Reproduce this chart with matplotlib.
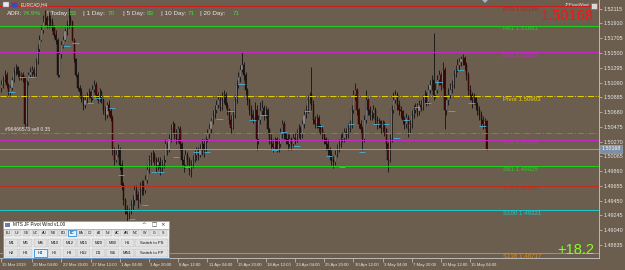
import matplotlib
matplotlib.use("Agg")
import matplotlib.pyplot as plt
import matplotlib.transforms as mtransforms
from matplotlib.patches import Rectangle, Polygon

plt.rcParams['font.family'] = ['Liberation Sans', 'DejaVu Sans']

# ---------------- data ----------------
first_open = 1.5102
close = [1.5106,1.5113,1.5120,1.5106,1.5096,1.5102,1.5113,1.5124,1.5130,1.5121,
 1.5118,1.5120,1.5116,1.5051,1.5110,1.5120,1.5124,1.5127,1.5121,1.5138,
 1.5155,1.5168,1.5182,1.5193,1.5199,1.5189,1.5196,1.5193,1.5185,1.5175,
 1.5168,1.5120,1.5148,1.5161,1.5168,1.5180,1.5189,1.5199,1.5193,1.5168,
 1.5141,1.5120,1.5102,1.5096,1.5088,1.5078,1.5085,1.5092,1.5096,1.5088,
 1.5099,1.5106,1.5092,1.5085,1.5096,1.5085,1.5071,1.5064,1.5078,1.5069,
 1.5060,1.5016,1.5002,1.5009,1.5016,1.4995,1.4967,1.4946,1.4932,1.4926,
 1.4930,1.4939,1.4946,1.4960,1.4953,1.4946,1.4960,1.4967,1.4960,1.4974,
 1.4988,1.5002,1.5005,1.5009,1.5002,1.4995,1.4999,1.4991,1.4995,1.5002,
 1.5023,1.5016,1.5030,1.5044,1.5051,1.5037,1.5030,1.5044,1.5023,1.5002,
 1.4995,1.5009,1.5002,1.4988,1.4995,1.5002,1.5009,1.5016,1.5009,1.5016,
 1.5023,1.5016,1.5030,1.5037,1.5044,1.5055,1.5064,1.5071,1.5078,1.5085,
 1.5074,1.5085,1.5092,1.5078,1.5071,1.5057,1.5046,1.5064,1.5085,1.5106,
 1.5116,1.5127,1.5134,1.5120,1.5099,1.5085,1.5071,1.5064,1.5060,1.5071,
 1.5030,1.5057,1.5069,1.5074,1.5064,1.5071,1.5044,1.5030,1.5023,1.5019,
 1.5030,1.5016,1.5023,1.5037,1.5051,1.5037,1.5030,1.5023,1.5030,1.5023,
 1.5032,1.5030,1.5037,1.5044,1.5037,1.5051,1.5064,1.5071,1.5085,1.5092,
 1.5078,1.5057,1.5051,1.5060,1.5046,1.5044,1.5037,1.5030,1.5023,1.5016,
 1.5009,1.5002,1.4998,1.5009,1.5016,1.5023,1.5030,1.5032,1.5041,1.5037,
 1.5046,1.5051,1.5071,1.5092,1.5099,1.5071,1.5051,1.5044,1.5030,1.5057,
 1.5085,1.5071,1.5064,1.5067,1.5071,1.5057,1.5051,1.5055,1.5046,1.5051,
 1.5044,1.5023,1.5002,1.5030,1.5071,1.5085,1.5092,1.5078,1.5071,1.5069,
 1.5057,1.5051,1.5060,1.5044,1.5051,1.5064,1.5071,1.5074,1.5069,1.5078,
 1.5074,1.5085,1.5092,1.5082,1.5099,1.5106,1.5113,1.5092,1.5099,1.5113,
 1.5120,1.5106,1.5127,1.5071,1.5085,1.5092,1.5099,1.5106,1.5120,1.5127,
 1.5134,1.5138,1.5141,1.5143,1.5134,1.5120,1.5099,1.5092,1.5085,1.5088,
 1.5078,1.5071,1.5064,1.5057,1.5051,1.5055,1.50168]
high = [1.5113,1.5118,1.5127,1.5124,1.5109,1.5106,1.5116,1.5130,1.5135,1.5132,
 1.5127,1.5124,1.5123,1.5118,1.5113,1.5124,1.5130,1.5132,1.5130,1.5143,
 1.5162,1.5175,1.5189,1.5203,1.5210,1.5205,1.5207,1.5203,1.5199,1.5189,
 1.5182,1.5171,1.5152,1.5166,1.5174,1.5185,1.5196,1.5213,1.5203,1.5196,
 1.5171,1.5143,1.5124,1.5106,1.5102,1.5092,1.5091,1.5096,1.5102,1.5099,
 1.5106,1.5113,1.5110,1.5096,1.5102,1.5099,1.5088,1.5077,1.5082,1.5085,
 1.5074,1.5064,1.5019,1.5016,1.5023,1.5019,1.5002,1.4971,1.4949,1.4939,
 1.4935,1.4946,1.4953,1.4967,1.4967,1.4958,1.4971,1.4974,1.4974,1.4981,
 1.4995,1.5009,1.5013,1.5016,1.5013,1.5005,1.5005,1.5005,1.5002,1.5009,
 1.5030,1.5027,1.5037,1.5051,1.5055,1.5053,1.5044,1.5049,1.5048,1.5026,
 1.5009,1.5016,1.5013,1.5006,1.5002,1.5009,1.5016,1.5020,1.5020,1.5023,
 1.5030,1.5030,1.5035,1.5044,1.5051,1.5060,1.5071,1.5078,1.5085,1.5092,
 1.5091,1.5096,1.5099,1.5096,1.5082,1.5074,1.5064,1.5071,1.5092,1.5113,
 1.5124,1.5134,1.5152,1.5138,1.5124,1.5102,1.5088,1.5078,1.5071,1.5082,
 1.5078,1.5064,1.5082,1.5085,1.5078,1.5077,1.5074,1.5046,1.5037,1.5030,
 1.5034,1.5034,1.5030,1.5046,1.5057,1.5055,1.5041,1.5037,1.5037,1.5034,
 1.5039,1.5039,1.5044,1.5051,1.5048,1.5057,1.5071,1.5078,1.5092,1.5096,
 1.5131,1.5085,1.5063,1.5066,1.5064,1.5052,1.5048,1.5041,1.5034,1.5030,
 1.5020,1.5016,1.5007,1.5016,1.5023,1.5030,1.5037,1.5041,1.5046,1.5046,
 1.5053,1.5057,1.5078,1.5099,1.5109,1.5102,1.5074,1.5057,1.5048,1.5064,
 1.5099,1.5088,1.5077,1.5071,1.5078,1.5075,1.5062,1.5060,1.5057,1.5057,
 1.5055,1.5046,1.5027,1.5037,1.5078,1.5096,1.5099,1.5096,1.5085,1.5077,
 1.5071,1.5062,1.5067,1.5064,1.5057,1.5071,1.5078,1.5081,1.5080,1.5085,
 1.5085,1.5092,1.5099,1.5096,1.5105,1.5113,1.5120,1.5178,1.5109,1.5120,
 1.5127,1.5124,1.5138,1.5130,1.5092,1.5102,1.5109,1.5113,1.5127,1.5134,
 1.5141,1.5143,1.5146,1.5148,1.5146,1.5138,1.5124,1.5105,1.5096,1.5095,
 1.5092,1.5082,1.5077,1.5069,1.5062,1.5060,1.5057]
low = [1.5096,1.5102,1.5110,1.5102,1.5091,1.5092,1.5099,1.5110,1.5120,1.5116,
 1.5113,1.5113,1.5110,1.5046,1.5048,1.5106,1.5116,1.5118,1.5116,1.5118,
 1.5135,1.5152,1.5166,1.5178,1.5189,1.5185,1.5185,1.5188,1.5180,1.5171,
 1.5163,1.5116,1.5116,1.5143,1.5157,1.5166,1.5175,1.5185,1.5189,1.5166,
 1.5138,1.5116,1.5099,1.5088,1.5082,1.5071,1.5074,1.5081,1.5088,1.5082,
 1.5085,1.5096,1.5088,1.5080,1.5082,1.5080,1.5066,1.5057,1.5060,1.5063,
 1.5055,1.5009,1.4995,1.4999,1.5005,1.4988,1.4960,1.4939,1.4926,1.4916,
 1.4919,1.4926,1.4932,1.4939,1.4946,1.4935,1.4942,1.4953,1.4953,1.4956,
 1.4970,1.4984,1.4995,1.4999,1.4995,1.4985,1.4988,1.4981,1.4985,1.4991,
 1.4998,1.5009,1.5012,1.5026,1.5037,1.5030,1.5023,1.5026,1.5016,1.4995,
 1.4985,1.4991,1.4995,1.4981,1.4978,1.4991,1.4998,1.5002,1.5002,1.5005,
 1.5009,1.5006,1.5013,1.5026,1.5032,1.5039,1.5051,1.5060,1.5067,1.5074,
 1.5069,1.5071,1.5081,1.5074,1.5064,1.5051,1.5039,1.5044,1.5060,1.5081,
 1.5102,1.5110,1.5123,1.5113,1.5092,1.5078,1.5064,1.5055,1.5053,1.5057,
 1.5016,1.5023,1.5051,1.5064,1.5057,1.5060,1.5037,1.5023,1.5016,1.5012,
 1.5016,1.5012,1.5013,1.5019,1.5032,1.5030,1.5023,1.5016,1.5019,1.5016,
 1.5019,1.5023,1.5026,1.5032,1.5030,1.5032,1.5046,1.5060,1.5067,1.5081,
 1.5071,1.5051,1.5046,1.5046,1.5041,1.5037,1.5030,1.5023,1.5016,1.5009,
 1.5002,1.4995,1.4991,1.4995,1.5005,1.5012,1.5019,1.5026,1.5027,1.5030,
 1.5032,1.5041,1.5046,1.5067,1.5085,1.5064,1.5046,1.5037,1.5016,1.5026,
 1.5053,1.5064,1.5057,1.5057,1.5060,1.5052,1.5044,1.5046,1.5039,1.5041,
 1.5035,1.5016,1.4985,1.4998,1.5026,1.5067,1.5081,1.5071,1.5064,1.5060,
 1.5051,1.5044,1.5046,1.5034,1.5039,1.5046,1.5060,1.5067,1.5063,1.5064,
 1.5069,1.5071,1.5081,1.5077,1.5078,1.5095,1.5099,1.5085,1.5088,1.5095,
 1.5106,1.5099,1.5102,1.5044,1.5064,1.5078,1.5088,1.5095,1.5102,1.5116,
 1.5123,1.5127,1.5132,1.5134,1.5127,1.5113,1.5092,1.5085,1.5074,1.5080,
 1.5071,1.5064,1.5057,1.5048,1.5044,1.5046,1.5016]

marker_bar = [4,10,15,34,39,47,51,59,64,70,77,82,86,94,100,105,111,118,124,130,
              136,142,148,153,160,166,173,178,185,190,196,204,209,215,220,226,232,238,245,250,256,262]
marker_price = [1.5096,1.5117,1.5117,1.5160,1.5164,1.5081,1.5087,1.5074,1.4981,1.4920,
                1.4939,1.4985,1.4985,1.5006,1.4992,1.5012,1.5012,1.5059,1.5070,1.5107,
                1.5057,1.5064,1.5016,1.5041,1.5021,1.5069,1.5048,1.5007,1.4992,1.5051,
                1.5013,1.5052,1.5052,1.5032,1.5057,1.5075,1.5080,1.5110,1.5070,1.5127,1.5080,1.5048]

level_names = ["R78", "R61", "R38", "Pivot", "S38", "S61", "S78", "S100", "S138"]
level_values = [1.52146, 1.51881, 1.51507, 1.50903, 1.50299, 1.49925, 1.49660, 1.49321, 1.48717]
level_colors = ["#cc1a1a", "#1ed21e", "#c828c8", "#e6d200", "#c828c8", "#1ed21e", "#bf2c1c", "#1ccaca", "#d98a14"]
level_styles = ["-", "-", "-", "-.", "-", "-", "-", "-", "-"]

order_price = 1.50394
order_label = "#96466573 sell 0.35"
bid = 1.50168
profit_text = "+18.2"

price_ticks = [1.52115, 1.51910, 1.51705, 1.51500, 1.51295, 1.51090, 1.50885, 1.50680, 1.50475,
               1.50270, 1.50065, 1.49860, 1.49655, 1.49450, 1.49245, 1.49040, 1.48835]
date_bars = [0, 17, 33, 49, 65, 81, 97, 113, 129, 145, 161, 177, 193, 209, 225, 241, 257]
date_labels = ["15 Mar 2019", "20 Mar 04:00", "22 Mar 20:00", "27 Mar 12:00", "1 Apr 04:00",
               "3 Apr 20:00", "8 Apr 12:00", "11 Apr 04:00", "15 Apr 20:00", "18 Apr 12:00",
               "23 Apr 04:00", "25 Apr 20:00", "30 Apr 12:00", "3 May 04:00", "7 May 20:00",
               "10 May 12:00", "15 May 04:00"]

adr_labels = ["ADR:", "| Today:", "| 1 Day:", "| 5 Day:", "| 10 Day:", "| 20 Day:"]
adr_values = ["74.9%", "53", "70", "83", "71", "71"]

pair_buttons = ["EU", "UJ", "GU", "UC", "AU", "NU", "EG", "EC", "EA", "CJ", "AJ", "NJ", "AC", "AN", "NC", "W", "G", "S"]
tf_row1 = ["M1", "M5", "M6", "M10", "M12", "M15", "M20", "M30", "H1", "Switch to PS"]
tf_row2 = ["H2", "H3", "H4", "H6", "H8", "H12", "D1", "W1", "MN1", "Switch to PP"]

# ---------------- style ----------------
BG = "#6c5e4f"
BULL = "#9c9c9c"
BEAR = "#560b0b"
WICK = "#121212"
AXC = "#c8c8c8"
TXT = "#e6e6e6"
GREEN_TXT = "#3fdc3f"

fig = plt.figure(figsize=(6.25, 2.7), dpi=100, facecolor=BG)
ax = fig.add_axes([0, 12 / 270, 599 / 625, 258 / 270], facecolor=BG)
ax.set_xlim(-0.6, 327.6)
ax.set_ylim(1.486544, 1.522355)

opens = [first_open] + close[:-1]
idx = list(range(len(close)))
up = [c >= o for o, c in zip(opens, close)]
bottoms = [min(o, c) for o, c in zip(opens, close)]
heights = [max(abs(c - o), 0.00002) for o, c in zip(opens, close)]
ax.vlines(idx, low, high, color=WICK, lw=0.6, zorder=2)
ax.bar(idx, heights, bottom=bottoms, width=0.62,
       color=[BULL if u else BEAR for u in up],
       edgecolor=["#3a3a3a" if u else "#140000" for u in up], linewidth=0.3, zorder=3)

# small cyan markers
ax.hlines(marker_price, marker_bar, [b + 3.5 for b in marker_bar], color="#48b0e0", lw=0.6, zorder=4)

# pivot levels
lbl_tr = mtransforms.blended_transform_factory(ax.transAxes, ax.transData)
for n, v, c, s in zip(level_names, level_values, level_colors, level_styles):
    ax.axhline(v, color=c, lw=0.7, ls=s, zorder=5)
    ax.text(503 / 599, v - 0.00012, f"{n} {v:.5f}", transform=lbl_tr, color=c,
            fontsize=4.4, va="top", ha="left", zorder=6)

# order line and bid line
ax.axhline(order_price, color="#5e9a3c", lw=0.7, ls=(0, (6, 2, 1, 2)), zorder=5)
ax.text(5 / 599, order_price + 0.00012, order_label, transform=lbl_tr, color=TXT,
        fontsize=3.6, va="bottom", ha="left", zorder=6)
ax.axhline(bid, color="#a6a6a6", lw=0.6, zorder=5)
ax.text(1.004, bid, f"{bid:.5f}", transform=lbl_tr, color="white", fontsize=3.8,
        va="center", ha="left", zorder=7, clip_on=False,
        bbox=dict(boxstyle="square,pad=0.25", fc="#7d8fa6", ec="#9fb0c4", lw=0.4))

# axes styling
for sp in ["top", "left"]:
    ax.spines[sp].set_visible(False)
for sp in ["right", "bottom"]:
    ax.spines[sp].set_color(AXC)
    ax.spines[sp].set_linewidth(0.6)
ax.yaxis.tick_right()
ax.set_yticks(price_ticks)
ax.set_yticklabels([f"{t:.5f}" for t in price_ticks])
ax.tick_params(axis="y", direction="out", length=2, width=0.5, color=AXC,
               labelsize=3.9, labelcolor=TXT, pad=1.2)
ax.set_xticks(date_bars)
ax.set_xticklabels(date_labels)
ax.tick_params(axis="x", direction="out", length=3, width=0.5, color=AXC,
               labelsize=3.1, labelcolor=TXT, pad=0.8)
off = mtransforms.ScaledTranslation(1.2 / 100, 0, fig.dpi_scale_trans)
for lab in ax.get_xticklabels():
    lab.set_ha("left")
    lab.set_transform(lab.get_transform() + off)

# ---------------- overlay (pixel coordinates) ----------------
ov = fig.add_axes([0, 0, 1, 1], zorder=10)
ov.set_xlim(0, 625)
ov.set_ylim(270, 0)
ov.axis("off")
ov.patch.set_alpha(0)

# top-left title & icons
ov.add_patch(Rectangle((3, 2), 6, 5, fc="#e8e8f0", ec="#8080a0", lw=0.3))
ov.add_patch(Rectangle((11, 2), 6, 5, fc="#3050c0", ec="#c03030", lw=0.4))
ov.text(21, 4.8, "EURCAD,H4", color=TXT, fontsize=3.4, va="center", ha="left")

adr_label_x = [7, 47, 83, 123, 161, 200]
adr_value_x = [23, 70, 108, 147, 188, 233]
for t, x in zip(adr_labels, adr_label_x):
    ov.text(x, 13.8, t, color=TXT, fontsize=4.6, va="center", ha="left")
for t, x in zip(adr_values, adr_value_x):
    ov.text(x, 13.8, t, color=GREEN_TXT, fontsize=4.6, va="center", ha="left")

# chart shift marker
ov.add_patch(Polygon([(482, 0), (488, 0), (485, 3)], closed=True, fc="#9fb4c8", ec="none"))

# indicator label top right
ov.text(589, 5.5, "JFPivotWind", color=TXT, fontsize=3.2, va="center", ha="right")
ov.add_patch(Rectangle((591, 2.5), 6, 6, fc="#d8d8d8", ec="#3a9a3a", lw=0.5))

# big texts
ov.text(594, 15.5, f"{bid:.5f}", color="#ff1010", fontsize=10.5, va="center", ha="right")
ov.text(594, 250, profit_text, color="#88ff22", fontsize=10.5, va="center", ha="right")

# panel
ov.add_patch(Rectangle((3, 221), 166, 37, fc="#f0f0f0", ec="#5a8cc4", lw=0.6))
ov.add_patch(Rectangle((3, 221), 166, 7.5, fc="#ffffff", ec="#5a8cc4", lw=0.4))
ov.add_patch(Rectangle((5, 222.5), 5, 4.5, fc="#6a7fa8", ec="none"))
ov.text(13, 224.8, "MTS JF Pivot Wind v1.00", color="#111111", fontsize=3.3, va="center", ha="left")
for sym, x in zip(["^", "\u25a1", "\u00d7"], [144, 154, 163]):
    ov.text(x, 224.8, sym, color="#333333", fontsize=4, va="center", ha="center",
            family=["DejaVu Sans"])

def button(x, y, w, h, label, hl=False, fs=2.8):
    ov.add_patch(Rectangle((x, y), w, h, fc="#e5f1fb" if hl else "#e1e1e1",
                           ec="#0078d7" if hl else "#adadad", lw=0.5 if hl else 0.3))
    ov.text(x + w / 2, y + h / 2, label, color="#111111", fontsize=fs, va="center", ha="center")

for k, lab in enumerate(pair_buttons):
    button(4.5 + 9.1 * k, 229.8, 7.6, 6.6, lab, hl=(lab == "EC"), fs=2.6)
for row, y in ((tf_row1, 239.2), (tf_row2, 248.8)):
    for k, lab in enumerate(row):
        if k < 9:
            button(4.5 + 14.5 * k, y, 13.3, 8.2, lab, hl=(lab == "H4"), fs=3.0)
        else:
            button(135.0, y, 32.5, 8.2, lab, fs=3.0)

fig.savefig("out.png", dpi=100, facecolor=BG)
